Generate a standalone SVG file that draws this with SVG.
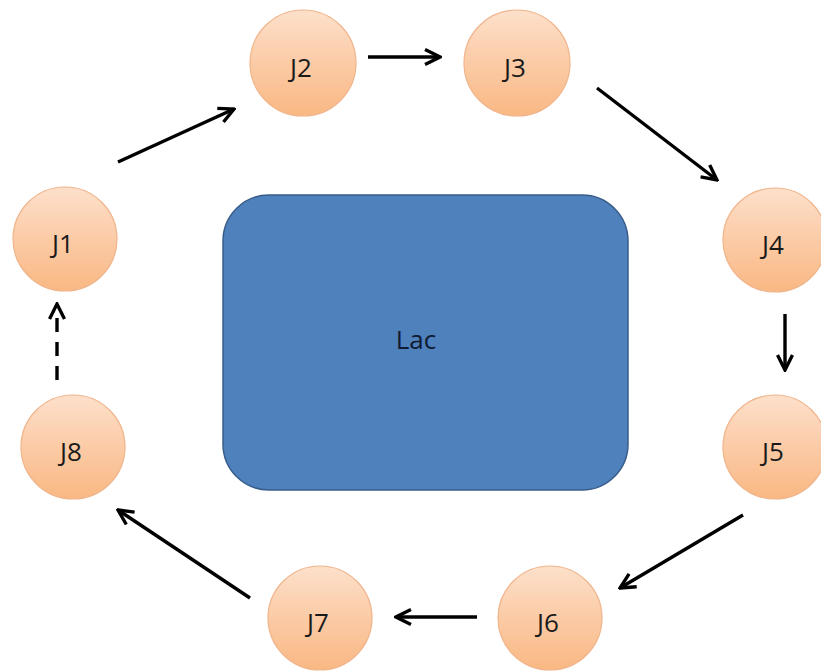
<svg xmlns="http://www.w3.org/2000/svg" width="821" height="672" viewBox="0 0 821 672">
<defs>
<linearGradient id="og" x1="0" y1="0" x2="0" y2="1">
<stop offset="0" stop-color="#fde0cb"/>
<stop offset="0.5" stop-color="#fbcba6"/>
<stop offset="1" stop-color="#f9b883"/>
</linearGradient>
<marker id="ah" viewBox="0 0 10 10" refX="9" refY="5" markerWidth="5.5" markerHeight="5.5" orient="auto" markerUnits="strokeWidth">
<path d="M1,1 L9,5 L1,9" fill="none" stroke="#000" stroke-width="1.8" stroke-linejoin="miter"/>
</marker>
</defs>
<style>
.node circle{fill:url(#og);stroke:#f0b48a;stroke-width:1.2}
.node text{font-family:"Open Sans","Liberation Sans",sans-serif;font-size:26px;fill:#1a1a1a;text-anchor:middle;dominant-baseline:central}
.edge{stroke:#000;stroke-width:3.4;fill:none;marker-end:url(#ah)}
</style>
<rect width="821" height="672" fill="#fff"/>
<g id="lac">
<rect x="223" y="195" width="405" height="295" rx="46" ry="46" fill="#4f81bd" stroke="#385d8a" stroke-width="1.5"/>
<text x="416" y="339" font-family="'Open Sans','Liberation Sans',sans-serif" font-size="26" fill="#0f1c33" text-anchor="middle" dominant-baseline="central">Lac</text>
</g>
<g id="J1" class="node"><circle cx="65" cy="239" r="52"/><text x="63" y="243">J1</text></g>
<g id="J2" class="node"><circle cx="303" cy="63" r="53"/><text x="301" y="67">J2</text></g>
<g id="J3" class="node"><circle cx="517" cy="63" r="53"/><text x="515" y="67">J3</text></g>
<g id="J4" class="node"><circle cx="775" cy="240" r="52"/><text x="773" y="244">J4</text></g>
<g id="J5" class="node"><circle cx="775" cy="447" r="52"/><text x="773" y="451">J5</text></g>
<g id="J6" class="node"><circle cx="550" cy="618" r="52"/><text x="548" y="622">J6</text></g>
<g id="J7" class="node"><circle cx="320" cy="618" r="52"/><text x="318" y="622">J7</text></g>
<g id="J8" class="node"><circle cx="73" cy="447" r="52"/><text x="71" y="451">J8</text></g>
<g id="connectors">
<line class="edge" x1="118" y1="162" x2="234" y2="109"/>
<line class="edge" x1="368" y1="57" x2="440" y2="57"/>
<line class="edge" x1="597" y1="88" x2="717" y2="180"/>
<line class="edge" x1="785" y1="314" x2="785" y2="370"/>
<line class="edge" x1="743" y1="515" x2="620" y2="588"/>
<line class="edge" x1="477" y1="617" x2="396" y2="617"/>
<line class="edge" x1="250" y1="598" x2="118" y2="510"/>
<line class="edge" x1="57" y1="380" x2="57" y2="304" stroke-dasharray="14,10"/>
</g>
</svg>
